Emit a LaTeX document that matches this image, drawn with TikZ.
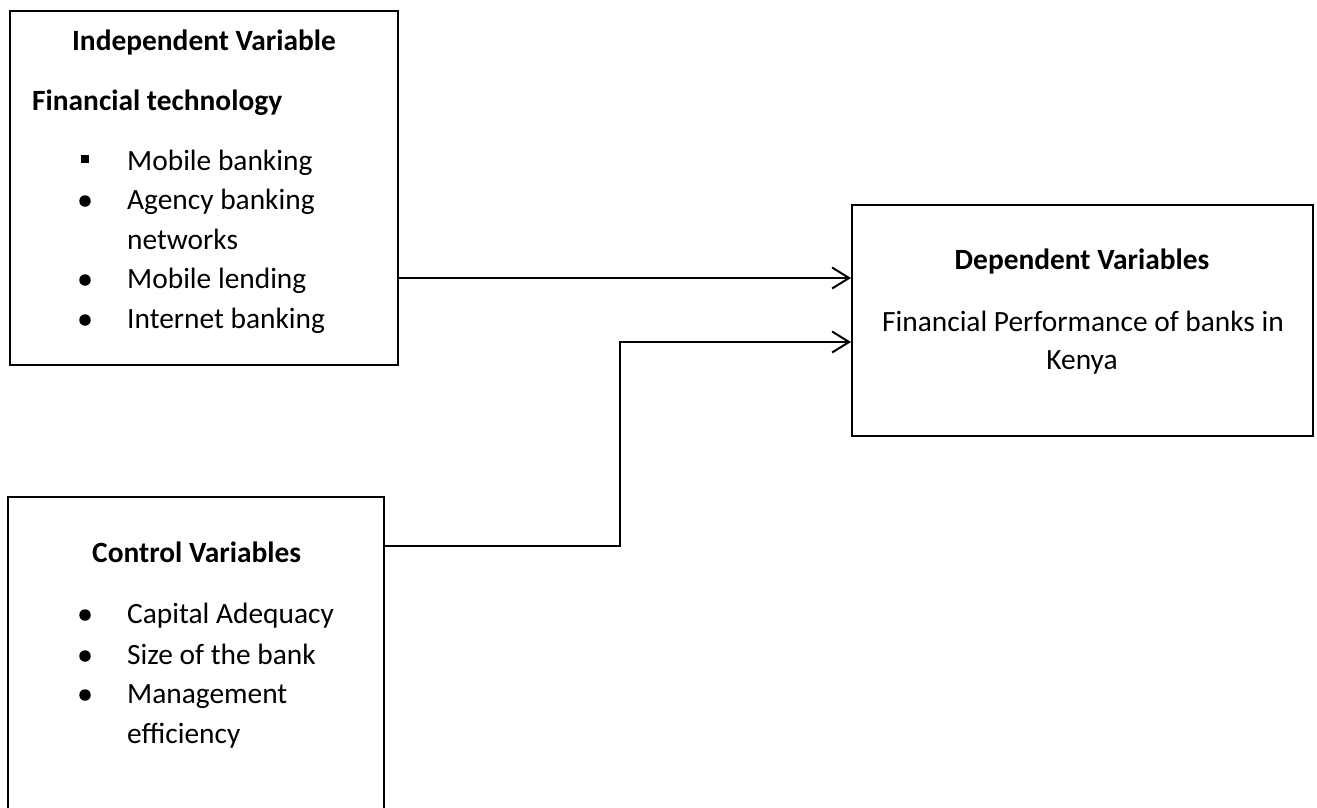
\documentclass[tikz,border=0pt]{standalone}
\usepackage{fontspec}
\setmainfont{Carlito}
\usetikzlibrary{arrows.meta}

\begin{document}
\begin{tikzpicture}[x=1pt,y=-1pt,
	varbox/.style={draw,line width=2pt,inner sep=0pt},
	txt/.style={inner sep=0pt,font=\fontsize{29.4}{34}\selectfont},
	dot/.style={circle,fill,inner sep=0pt,minimum size=11.5pt},
	sq/.style={rectangle,fill,inner sep=0pt,minimum size=8.7pt},
	link/.style={line width=2pt,-{Straight Barb[length=17pt,width=21pt]}}]
	\useasboundingbox (0,0) rectangle (1317,807);
	% boxes
	\node[varbox,minimum width=388pt,minimum height=354pt] (indep) at (204,188) {};
	\node[varbox,minimum width=461pt,minimum height=231pt] (dep) at (1082.5,320.5) {};
	\node[varbox,minimum width=376pt,minimum height=340pt] (ctrl) at (196,667) {};
	% independent variable
	\node[txt,anchor=base] (indeptitle) at (204,50) {\bfseries Independent Variable};
	\node[txt,anchor=base west] (fintech) at (32,110) {\bfseries Financial technology};
	\node[sq] (fin-1) at (85,159) {};
	\node[txt,anchor=base west] (fint-1) at (127,170) {Mobile banking};
	\foreach \i/\yy/\t in {2/209/Agency banking,4/288/Mobile lending,5/328/Internet banking}{
		\node[dot] (fin-\i) at (85,\yy-8) {};
		\node[txt,anchor=base west] (fint-\i) at (127,\yy) {\t};
	}
	\node[txt,anchor=base west] (fint-3) at (127,249) {networks};
	% dependent variable
	\node[txt,anchor=base] (deptitle) at (1082,269) {\bfseries Dependent Variables};
	\node[txt,anchor=base] (dept-1) at (1083,331) {Financial Performance of banks in};
	\node[txt,anchor=base] (dept-2) at (1082,369) {Kenya};
	% control variables
	\node[txt,anchor=base west] (ctrltitle) at (92,562) {\bfseries Control Variables};
	\foreach \i/\yy/\t in {1/623/Capital Adequacy,2/664/Size of the bank,3/703/Management}{
		\node[dot] (ctl-\i) at (85,\yy-8) {};
		\node[txt,anchor=base west] (ctlt-\i) at (127,\yy) {\t};
	}
	\node[txt,anchor=base west] (ctlt-4) at (127,743) {efficiency};
	% links
	\coordinate (in1) at ([yshift=42.5pt]dep.west);
	\coordinate (in2) at ([yshift=-21.5pt]dep.west);
	\draw[link] (indep.east |- in1) -- (in1);
	\draw[link] ([yshift=-50pt]ctrl.north east) -- ++(235,0) |- (in2);
\end{tikzpicture}
\end{document}
